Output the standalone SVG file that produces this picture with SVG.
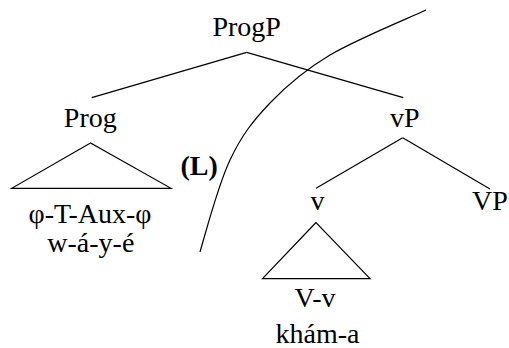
<svg xmlns="http://www.w3.org/2000/svg" width="509" height="348" viewBox="0 0 509 348">
<style>
.ln{stroke:#000;stroke-width:1.2;fill:none}
.t{font-family:"Liberation Serif","Times New Roman",serif;font-size:28px;fill:#000;text-anchor:middle}
.b{font-weight:bold}
</style>
<rect width="509" height="348" fill="#fff"/>
<g id="connectors">
<line class="ln" x1="246.7" y1="52.3" x2="91.7" y2="97.7"/>
<line class="ln" x1="246.7" y1="52.3" x2="403.3" y2="97.7"/>
<line class="ln" x1="402.7" y1="137.7" x2="316" y2="188.3"/>
<line class="ln" x1="402.7" y1="137.7" x2="490" y2="189"/>
<polygon class="ln" points="90.5,143 11.7,188.3 171,188.3"/>
<polygon class="ln" points="316,222.5 262.5,278.7 370,278.7"/>
</g>
<path id="boundary" class="ln" d="M200,252 C208.7,222 218.3,184.8 230,160 C241.7,135.2 253.3,120.5 270,103 C286.7,85.5 304,70.5 330,55 C356,39.5 410,17.5 426,10"/>
<g id="ProgP"><text class="t" x="246.7" y="35.5">ProgP</text></g>
<g id="Prog"><text class="t" x="90.3" y="126.7">Prog</text></g>
<g id="vP"><text class="t" x="404.7" y="126.7">vP</text></g>
<g id="Prog-content"><text class="t" x="90" y="223.3">φ-T-Aux-φ</text><text class="t" x="90.8" y="251.7">w-á-y-é</text></g>
<g id="L-label"><text class="t b" x="199.2" y="175">(L)</text></g>
<g id="v"><text class="t" x="317.5" y="210">v</text></g>
<g id="VP"><text class="t" x="490" y="210">VP</text></g>
<g id="v-content"><text class="t" x="315" y="307.3">V-v</text><text class="t" x="317.5" y="343.3">khám-a</text></g>
</svg>
